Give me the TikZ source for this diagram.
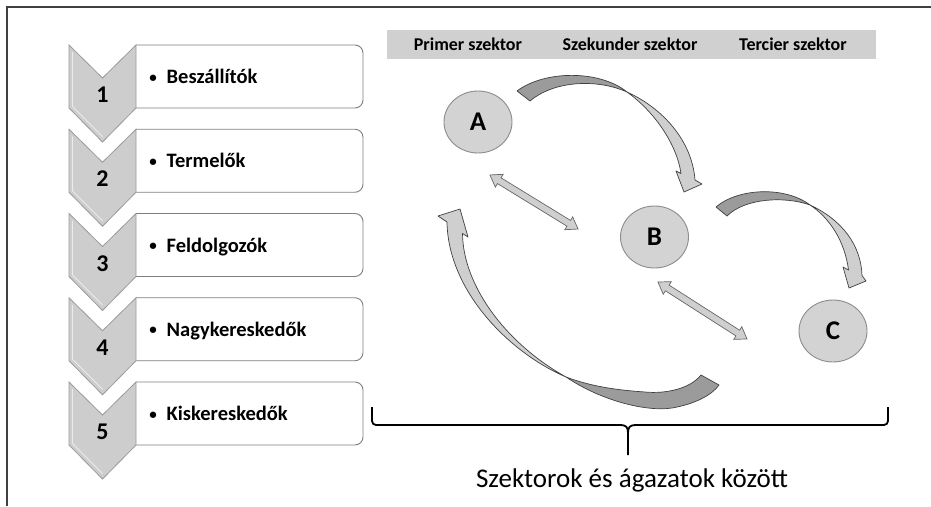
\documentclass[tikz,border=0pt]{standalone}
\usepackage{fontspec}
\setmainfont{Carlito}
\usetikzlibrary{shapes.geometric}
\definecolor{chevfill}{HTML}{CDCDCD}
\definecolor{chevline}{HTML}{9A9A9A}
\definecolor{boxline}{HTML}{7F7F7F}
\definecolor{barfill}{HTML}{D0D0D0}
\definecolor{circfill}{HTML}{D3D3D3}
\definecolor{circline}{HTML}{8C8C8C}
\definecolor{riblight}{HTML}{CFCFCF}
\definecolor{ribdark}{HTML}{9B9B9B}
\definecolor{ribline}{HTML}{404040}
\newcommand\dblarr[4]{%
\begin{scope}[shift={(#1,#2)},rotate=#3]
 \pgfmathsetmacro\hl{#4/2}
 \filldraw[dblarrow] (-\hl,0) -- (-\hl+11,-7.5) -- (-\hl+11,-3.4) -- (\hl-11,-3.4) -- (\hl-11,-7.5) -- (\hl,0) -- (\hl-11,7.5) -- (\hl-11,3.4) -- (-\hl+11,3.4) -- (-\hl+11,7.5) -- cycle;
\end{scope}}
\begin{document}
\begin{tikzpicture}[x=1pt,y=-1pt,
  chevron/.style={fill=chevfill,draw=chevline,line width=0.8pt,line join=miter},
  stepbox/.style={fill=white,draw=boxline,line width=0.9pt,rounded corners=8pt},
  numlabel/.style={font=\bfseries\fontsize{24}{26}\selectfont,anchor=base,inner sep=0},
  itemlabel/.style={font=\bfseries\fontsize{20.5}{23}\selectfont,anchor=base west,inner sep=0},
  hdr/.style={font=\bfseries\fontsize{18}{20}\selectfont,inner sep=0},
  sector/.style={ellipse,fill=circfill,draw=circline,line width=0.9pt,minimum width=68pt,minimum height=62pt,inner sep=0,font=\bfseries\fontsize{27}{30}\selectfont},
  ribL/.style={fill=riblight,draw=ribline,line width=0.7pt,line join=round},
  ribD/.style={fill=ribdark,draw=ribline,line width=0.7pt,line join=round},
  dblarrow/.style={fill=riblight,draw=ribline!80,line width=0.7pt,line join=miter}]
\useasboundingbox (0,0) rectangle (931,506);
% frame
\draw[line width=1.3pt,black!75] (7,506) -- (7,7) -- (931,7);
% steps
\foreach \i/\txt in {1/Beszállítók,2/Termelők,3/Feldolgozók,4/Nagykereskedők,5/Kiskereskedők}{
  \pgfmathsetmacro\t{45+84.25*(\i-1)}
  \draw[stepbox] (136,\t) -- (363,\t) -- (363,\t+63) -- (136,\t+63);
  \draw[chevron] (69,\t) -- (102.5,\t+33) -- (136,\t) -- (136,\t+63) -- (102.5,\t+97) -- (69,\t+63) -- cycle;
  \draw[white,line width=0.9pt,opacity=0.6] (72.5,\t+7) -- (72.5,\t+61.5) -- (102.5,\t+91.5);
  \node[numlabel] (n\i) at (102.5,\t+57.5) {\i};
  \node[font=\bfseries\fontsize{15}{18}\selectfont,anchor=base,inner sep=0] (b\i) at (153,\t+37) {•};
  \node[itemlabel] (t\i) at (166.5,\t+38.5) {\txt};
}
% header bar
\fill[barfill] (387,30) rectangle (876,59);
\node[hdr] (h1) at (468,44.5) {Primer szektor};
\node[hdr] (h2) at (630,44.5) {Szekunder szektor};
\node[hdr] (h3) at (793,44.5) {Tercier szektor};
% sectors
\node[sector] (A) at (478,122) {A};
\node[sector] (B) at (654.5,237) {B};
\node[sector] (C) at (833,331) {C};
% curved arrow A -> B
\filldraw[ribD] (517,91) .. controls (545,70) and (600,70) .. (627,92) .. controls (598,79) and (555,80) .. (530,101) -- cycle;
\filldraw[ribL] (627,92) .. controls (662,108) and (692,140) .. (695,180) -- (702,184) -- (684,192) -- (676,171) -- (681,173.5) .. controls (677,145) and (655,112) .. (627,92) -- cycle;
% curved arrow B -> C
\filldraw[ribD] (716,207) .. controls (738,188) and (785,186) .. (810,205) .. controls (785,196) and (745,198) .. (727,216) -- cycle;
\filldraw[ribL] (810,205) .. controls (842,220) and (861,245) .. (862,275.5) -- (866,281) -- (849,288) -- (843,267) -- (848.5,270) .. controls (845,242) and (830,218) .. (810,205) -- cycle;
% return arrow C -> A
\filldraw[ribD] (566,377) .. controls (600,400) and (645,412) .. (672,408) .. controls (695,404) and (712,395) .. (719,385) -- (701,375) .. controls (690,389) and (665,394) .. (645,392) .. controls (615,390) and (590,386) .. (566,377) -- cycle;
\filldraw[ribL] (566,377) .. controls (508,352) and (448,290) .. (447,222) -- (438,216) -- (460,209) -- (468,237) -- (462.5,233.5) .. controls (463,285) and (505,343) .. (566,377) -- cycle;
% double arrows
\dblarr{534}{202}{-31.5}{103.5}
\dblarr{702.5}{310.5}{-32.6}{105.7}
% brace
\draw[line width=1.8pt,rounded corners=4pt] (372,407) -- (372,425) -- (622,425);
\draw[line width=1.8pt,rounded corners=4pt] (634,425) -- (888,425) -- (888,407);
\draw[line width=1.8pt] (620,425) .. controls (626,425) and (628,427) .. (628,433) -- (628,455);
\draw[line width=1.8pt] (636,425) .. controls (630,425) and (628,427) .. (628,433);
\node[font=\fontsize{27}{30}\selectfont,anchor=base,inner sep=0] (lbl) at (632,487) {Szektorok és ágazatok között};
\end{tikzpicture}
\end{document}
